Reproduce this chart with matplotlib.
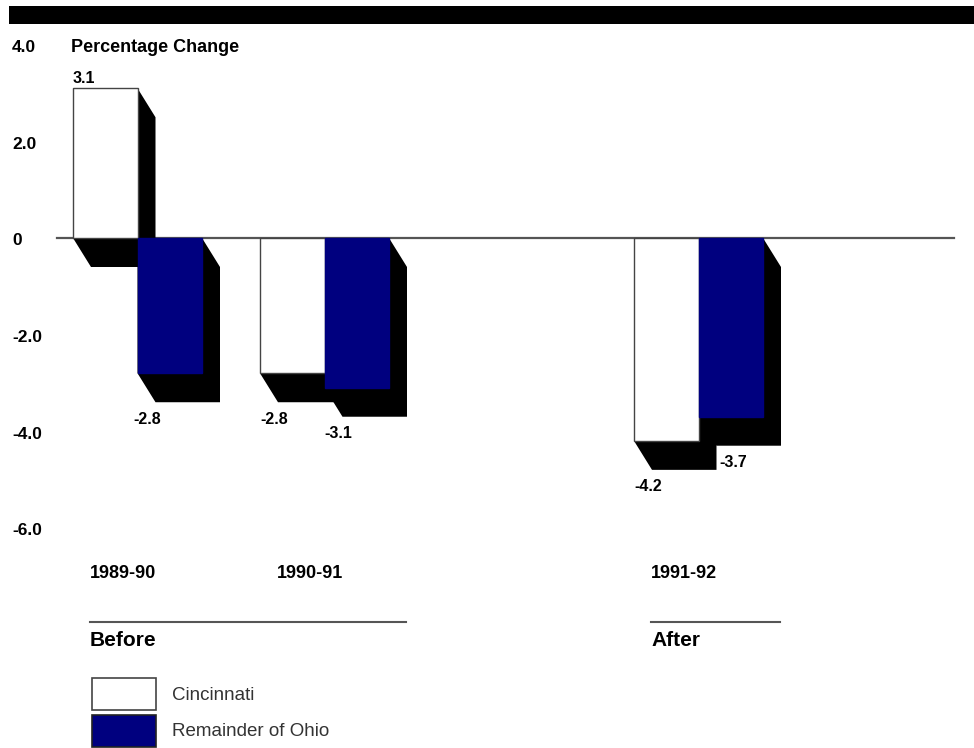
"""Percentage change bar chart: Cincinnati vs remainder of Ohio."""

import matplotlib
matplotlib.use("Agg")
import matplotlib.pyplot as plt
from matplotlib.patches import Polygon, Rectangle

# data
periods = ["1989-90", "1990-91", "1991-92"]
period_slots = [0, 1, 3]          # 1991-92 sits after an empty slot
cincinnati = [3.1, -2.8, -4.2]
remainder = [-2.8, -3.1, -3.7]
series_names = ["Cincinnati", "Remainder of Ohio"]
y_ticks = [4.0, 2.0, 0.0, -2.0, -4.0, -6.0]
y_tick_labels = ["4.0", "2.0", "0", "-2.0", "-4.0", "-6.0"]
phases = ["Before", "After"]
phase_spans = [(0, 1), (3, 3)]    # first and last slot of each phase

# layout (pixels of the 974x748 picture)
W, H = 974, 748
X0_PX, SLOT_PX = 73, 187          # left edge of first bar, slot spacing
ZERO_PX, UNIT_PX = 238, 48.3      # y pixel of 0, pixels per 1 %
BAR_W = 64.5 / SLOT_PX
SH_DX = 18 / SLOT_PX
SH_DY = 29 / UNIT_PX

WHITE = "#ffffff"
NAVY = "#00007f"
GRAY = "#555555"
FONT = "Liberation Sans"


def px_x(px):
    return (px - X0_PX) / SLOT_PX


def px_y(px):
    return (ZERO_PX - px) / UNIT_PX


def add_bar(ax, x0, value, color, edge):
    top, bottom = max(value, 0), min(value, 0)
    x1 = x0 + BAR_W
    shadow = [(x0, top), (x1, top), (x1 + SH_DX, top - SH_DY),
              (x1 + SH_DX, bottom - SH_DY), (x0 + SH_DX, bottom - SH_DY),
              (x0, bottom)]
    ax.add_patch(Polygon(shadow, closed=True, facecolor="black",
                         edgecolor="none", zorder=2))
    ax.add_patch(Rectangle((x0, bottom), BAR_W, top - bottom,
                           facecolor=color, edgecolor=edge, lw=1.0, zorder=3))


fig = plt.figure(figsize=(W / 100, H / 100), dpi=100)
ax = fig.add_axes([0, 0, 1, 1])
ax.set_xlim(px_x(0), px_x(W))
ax.set_ylim(px_y(H), px_y(0))
ax.axis("off")

# black band across the top
fig.add_artist(Rectangle((9 / W, 1 - 24 / H), 1 - 9 / W, 18 / H,
                         transform=fig.transFigure, facecolor="black",
                         edgecolor="none"))

# zero line
ax.plot([px_x(57), px_x(954)], [0, 0], color=GRAY, lw=1.6, zorder=1)

# bars, shadows drawn first so the faces sit on top
labels = []
for slot, c, r in zip(period_slots, cincinnati, remainder):
    add_bar(ax, slot, c, WHITE, "#444444")
    add_bar(ax, slot + BAR_W, r, NAVY, NAVY)
    labels.append((slot, c, False))
    labels.append((slot + BAR_W, r, True))

for i, (x, v, is_rem) in enumerate(labels):
    if v >= 0:
        ax.text(x, v + 0.05, f"{v:.1f}", ha="left", va="bottom",
                fontsize=11.5, fontweight="bold", family=FONT, zorder=4)
        continue
    tx = x
    # last blue label is pushed right of the neighbouring shadow
    if is_rem and i == len(labels) - 1:
        tx = x + SH_DX + 3 / SLOT_PX
    elif is_rem and i == 1:
        tx = x - 4 / SLOT_PX
    ax.text(tx, v - SH_DY - 17 / UNIT_PX, f"{v:.1f}", ha="left",
            va="center", fontsize=11.5, fontweight="bold", family=FONT,
            zorder=4)

# y labels
for t, lab in zip(y_ticks, y_tick_labels):
    ax.text(px_x(12), t - 0.06, lab, ha="left", va="center", fontsize=12.5,
            fontweight="bold", family=FONT)
ax.text(px_x(71), y_ticks[0] - 0.06, "Percentage Change", ha="left",
        va="center", fontsize=13, fontweight="bold", family=FONT)

# period labels
for slot, name in zip(period_slots, periods):
    ax.text(slot + 17 / SLOT_PX, px_y(573), name, ha="left", va="center",
            fontsize=13, fontweight="bold", family=FONT)

# before / after brackets
for (s0, s1), name in zip(phase_spans, phases):
    xa = s0 + 17 / SLOT_PX
    xb = s1 + 146 / SLOT_PX
    ax.plot([xa, xb], [px_y(622), px_y(622)], color=GRAY, lw=1.5)
    ax.text(xa, px_y(640), name, ha="left", va="center", fontsize=15,
            fontweight="bold", family=FONT)

# legend
for k, (name, color, edge) in enumerate(zip(series_names, [WHITE, NAVY],
                                            ["#444444", "#222222"])):
    top_px = 678 + k * 37
    ax.add_patch(Rectangle((px_x(92), px_y(top_px + 32)), 64 / SLOT_PX,
                           32 / UNIT_PX, facecolor=color, edgecolor=edge,
                           lw=1.2))
    ax.text(px_x(172), px_y(top_px + 17), name, ha="left", va="center",
            fontsize=13.5, color="#333333", family=FONT)

fig.savefig("out.png", dpi=100)
